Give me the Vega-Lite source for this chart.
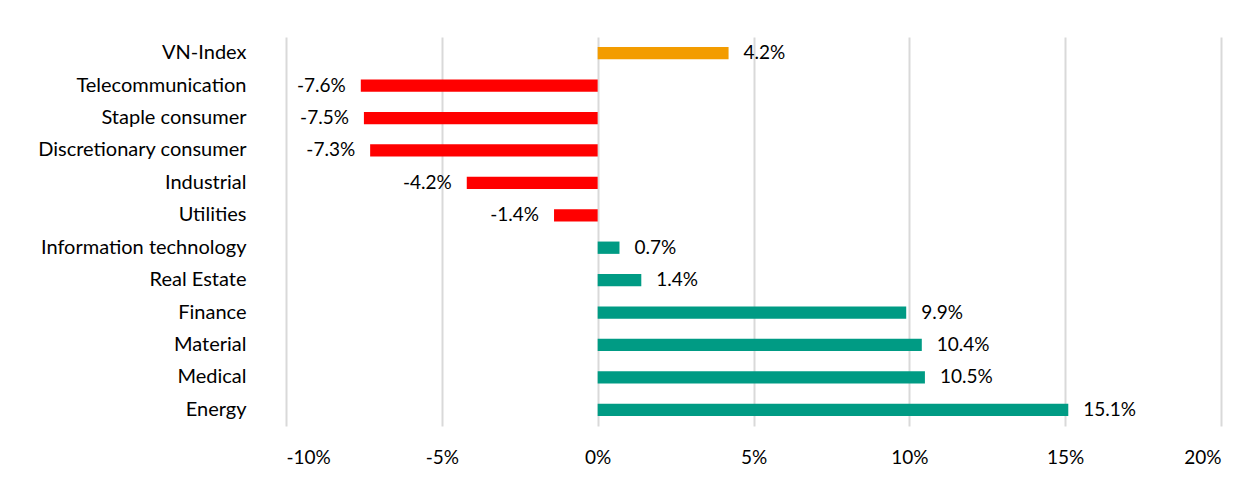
{
  "$schema": "https://vega.github.io/schema/vega-lite/v6.json",
  "autosize": "none",
  "width": 935,
  "height": 389,
  "padding": {"left": 286, "top": 37, "right": 21, "bottom": 78},
  "background": "white",
  "config": {"view": {"stroke": null}, "font": "Lato"},
  "data": {"values": [
    {"sector": "VN-Index", "value": 4.2, "label": "4.2%", "group": "index"},
    {"sector": "Telecommunication", "value": -7.6, "label": "-7.6%", "group": "neg"},
    {"sector": "Staple consumer", "value": -7.5, "label": "-7.5%", "group": "neg"},
    {"sector": "Discretionary consumer", "value": -7.3, "label": "-7.3%", "group": "neg"},
    {"sector": "Industrial", "value": -4.2, "label": "-4.2%", "group": "neg"},
    {"sector": "Utilities", "value": -1.4, "label": "-1.4%", "group": "neg"},
    {"sector": "Information technology", "value": 0.7, "label": "0.7%", "group": "pos"},
    {"sector": "Real Estate", "value": 1.4, "label": "1.4%", "group": "pos"},
    {"sector": "Finance", "value": 9.9, "label": "9.9%", "group": "pos"},
    {"sector": "Material", "value": 10.4, "label": "10.4%", "group": "pos"},
    {"sector": "Medical", "value": 10.5, "label": "10.5%", "group": "pos"},
    {"sector": "Energy", "value": 15.1, "label": "15.1%", "group": "pos"}
  ]},
  "encoding": {
    "y": {
      "field": "sector", "type": "nominal", "sort": null,
      "scale": {"paddingInner": 0.62, "paddingOuter": 0.31},
      "axis": {"title": null, "ticks": false, "domain": false, "labelPadding": 40, "labelLimit": 0,
               "labelFontSize": 20, "labelColor": "#000000", "labelFont": "Lato"}
    },
    "x": {
      "field": "value", "type": "quantitative",
      "scale": {"domain": [-10, 20], "nice": false, "zero": false},
      "axis": {"title": null, "values": [-10, -5, 0, 5, 10, 15, 20], "labelExpr": "datum.value + '%'",
               "ticks": false, "domain": false, "grid": true, "gridColor": "#D9D9D9", "gridWidth": 2,
               "labelPadding": 22, "labelFontSize": 19, "labelColor": "#000000", "labelFont": "Lato"}
    }
  },
  "layer": [
    {
      "mark": {"type": "bar"},
      "encoding": {
        "x2": {"datum": 0},
        "color": {"field": "group", "type": "nominal",
                  "scale": {"domain": ["index", "neg", "pos"], "range": ["#F39C00", "#FF0000", "#009B84"]},
                  "legend": null}
      }
    },
    {
      "transform": [{"filter": "datum.value >= 0"}],
      "mark": {"type": "text", "align": "left", "dx": 15, "fontSize": 19, "color": "#000000", "font": "Lato"},
      "encoding": {"text": {"field": "label", "type": "nominal"}}
    },
    {
      "transform": [{"filter": "datum.value < 0"}],
      "mark": {"type": "text", "align": "right", "dx": -15, "fontSize": 19, "color": "#000000", "font": "Lato"},
      "encoding": {"text": {"field": "label", "type": "nominal"}}
    }
  ]
}
